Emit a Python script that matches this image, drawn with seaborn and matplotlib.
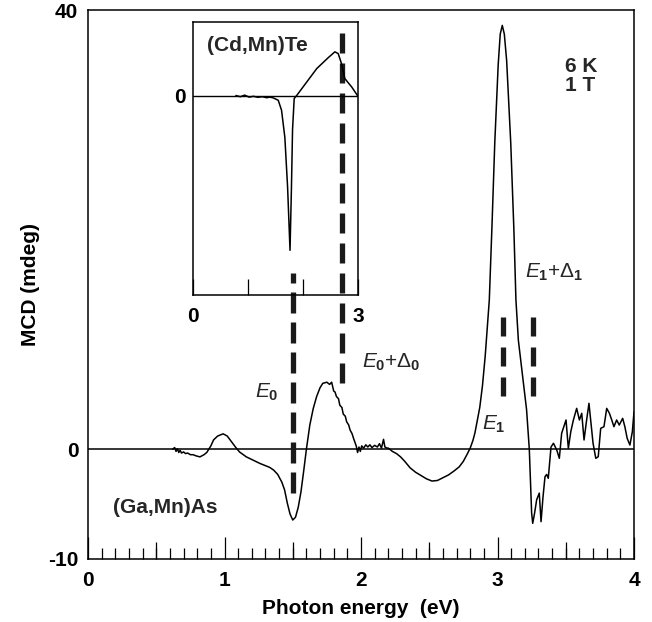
import matplotlib
matplotlib.use("Agg")
import matplotlib.pyplot as plt
from matplotlib.ticker import MultipleLocator
import pandas as pd
import seaborn as sns

# (Ga,Mn)As magnetic circular dichroism, 6 K, 1 T
gamnas_energy = [
    0.62, 0.635, 0.645, 0.655, 0.665, 0.675, 0.685, 0.70, 0.715, 0.73, 0.75, 0.77, 0.79, 0.82,
    0.85, 0.87, 0.90, 0.92, 0.95, 0.99, 1.02, 1.05, 1.08, 1.11, 1.16, 1.21, 1.26, 1.30, 1.33,
    1.36, 1.39, 1.42, 1.44, 1.46, 1.48, 1.50, 1.52, 1.54, 1.56, 1.58, 1.60, 1.625, 1.65, 1.675,
    1.70, 1.72, 1.735, 1.75, 1.77, 1.785, 1.80, 1.81, 1.82, 1.835, 1.845, 1.86, 1.87, 1.885,
    1.895, 1.91, 1.92, 1.935, 1.945, 1.965, 1.975, 1.985, 1.995, 2.005, 2.02, 2.035, 2.05,
    2.065, 2.08, 2.10, 2.12, 2.135, 2.15, 2.165, 2.175, 2.19, 2.20, 2.23, 2.26, 2.29, 2.32,
    2.36, 2.40, 2.44, 2.48, 2.52, 2.56, 2.60, 2.64, 2.68, 2.72, 2.75, 2.78, 2.80, 2.82, 2.835,
    2.85, 2.87, 2.89, 2.91, 2.94, 2.96, 2.98, 3.005, 3.02, 3.035, 3.05, 3.067, 3.097, 3.12,
    3.135, 3.153, 3.19, 3.213, 3.233, 3.25, 3.258, 3.272, 3.287, 3.306, 3.319, 3.333, 3.348,
    3.36, 3.372, 3.392, 3.41, 3.434, 3.453, 3.47, 3.502, 3.519, 3.537, 3.556, 3.58, 3.60,
    3.617, 3.634, 3.653, 3.67, 3.685, 3.70, 3.72, 3.738, 3.756, 3.78, 3.80, 3.82, 3.837,
    3.853, 3.873, 3.892, 3.917, 3.933, 3.95, 3.97, 3.988, 4.0,
]
gamnas_mcd = [
    0.0, 0.15, -0.2, 0.05, -0.3, -0.1, -0.35, -0.25, -0.4, -0.35, -0.5, -0.5, -0.6, -0.7,
    -0.5, -0.3, 0.3, 0.85, 1.2, 1.4, 1.2, 0.7, 0.2, -0.25, -0.7, -1.0, -1.3, -1.5, -1.65,
    -1.9, -2.3, -3.0, -3.7, -4.9, -5.9, -6.45, -6.2, -5.3, -3.9, -2.0, 0.0, 2.2, 3.7, 4.8,
    5.6, 6.0, 6.05, 6.1, 5.9, 6.1, 5.3, 5.2, 4.8, 4.6, 4.0, 3.8, 3.2, 3.0, 2.5, 2.2, 1.75,
    1.4, 1.0, 0.3, -0.3, 0.2, -0.2, 0.3, 0.1, 0.4, 0.2, 0.4, 0.15, 0.35, 0.2, 0.5, 0.1, 0.9,
    0.2, 0.1, 0.1, -0.2, -0.4, -0.7, -1.1, -1.7, -2.1, -2.4, -2.7, -2.9, -2.85, -2.6, -2.35,
    -2.0, -1.6, -1.1, -0.4, 0.1, 0.8, 1.5, 2.5, 3.8, 5.8, 8.5, 13.6, 20.5, 27.9, 35.0, 37.8,
    38.6, 37.8, 35.4, 27.9, 20.0, 13.6, 9.9, 6.0, 3.6, 0.0, -5.8, -6.75, -5.8, -4.6, -4.0,
    -6.6, -4.4, -2.5, -2.3, -2.65, 0.2, 0.54, -0.07, -0.83, 1.45, 2.66, 0.08, 1.6, 2.66,
    3.72, 2.66, 3.27, 0.84, 2.66, 4.18, 2.36, 0.54, -0.83, -0.68, 1.9, 2.05, 3.72, 3.27,
    2.66, 2.05, 2.66, 2.2, 2.81, 2.05, 0.99, 0.38, 1.6, 3.4,
]

# (Cd,Mn)Te spectrum for comparison (arbitrary units)
cdmnte_energy = [
    0.78, 0.86, 0.94, 1.02, 1.10, 1.18, 1.26, 1.34, 1.40, 1.46, 1.55, 1.61, 1.67, 1.72,
    1.764, 1.79, 1.81, 1.84, 1.885, 2.25, 2.46, 2.58, 2.64, 2.70, 2.76, 2.885, 2.99,
]
cdmnte_mcd = [
    0.0, -0.006, 0.002, -0.008, -0.004, -0.009, -0.006, -0.011, -0.008, -0.012, -0.024,
    -0.074, -0.21, -0.46, -0.776, -0.46, -0.17, -0.015, 0.0, 0.135, 0.19, 0.219, 0.21,
    0.16, 0.085, 0.043, 0.0,
]

# Critical-point transitions marked by dashed bars (eV, mdeg)
transition_names = ["E0", "E0+D0", "E1", "E1+D1"]
transition_energy = [1.50, 1.858, 3.04, 3.26]
transition_low = [-4.0, 6.0, 4.85, 4.85]
transition_high = [16.05, 38.0, 12.1, 12.1]

sns.set_theme(style="ticks")
plt.rcParams["font.family"] = ["Liberation Sans", "DejaVu Sans"]
plt.rcParams["mathtext.fontset"] = "custom"
plt.rcParams["mathtext.rm"] = "Liberation Sans"
plt.rcParams["mathtext.it"] = "Liberation Sans:italic"
plt.rcParams["mathtext.bf"] = "Liberation Sans:bold"
plt.rcParams["lines.scale_dashes"] = False
plt.rcParams["axes.unicode_minus"] = False

FS = 15
fig = plt.figure(figsize=(6.52, 6.22), dpi=100)
ax = fig.add_axes([88 / 652, 1 - 559 / 622, 546 / 652, 549 / 622])

main_df = pd.DataFrame({"energy": gamnas_energy, "mcd": gamnas_mcd})
sns.lineplot(data=main_df, x="energy", y="mcd", ax=ax, color="black", lw=1.1,
             sort=False, estimator=None)
ax.axhline(0, color="black", lw=1.1, zorder=1)

ax.set_xlim(0, 4)
ax.set_ylim(-10, 40)
ax.set_xticks([0, 1, 2, 3, 4])
ax.xaxis.set_minor_locator(MultipleLocator(0.1))
ax.set_yticks([-10, 0, 40])
ax.tick_params(axis="x", which="major", direction="in", length=15.8, width=0.9,
               pad=9, labelsize=FS, color="black", labelcolor="black")
ax.tick_params(axis="x", which="minor", direction="in", length=7.9, width=0.9,
               color="black")
ax.tick_params(axis="y", which="both", length=0, pad=7, labelsize=FS, labelcolor="black")
for lab in ax.get_xticklabels() + ax.get_yticklabels():
    lab.set_fontweight("bold")

# half-unit ticks on the energy axis
sec = ax.secondary_xaxis("bottom")
sec.set_xticks([0.5, 1.5, 2.5, 3.5])
sec.tick_params(direction="in", length=12.2, width=0.9, labelbottom=False, color="black")
sec.spines["bottom"].set_visible(False)

for side in ["left", "right", "top", "bottom"]:
    ax.spines[side].set_visible(True)
    ax.spines[side].set_color("black")
    ax.spines[side].set_linewidth(1.1)

ax.set_xlabel("Photon energy  (eV)", fontsize=FS, fontweight="bold", labelpad=6, color="black")
ax.set_ylabel("MCD (mdeg)", fontsize=FS, fontweight="bold", labelpad=6, color="black")

# dashed markers for the optical transitions
dash_styles = [(0, (21 * 0.72, 9 * 0.72)), (0, (20 * 0.72, 10 * 0.72)),
               (0, (19 * 0.72, 11 * 0.72)), (0, (19 * 0.72, 11 * 0.72))]
for en, lo, hi, ls in zip(transition_energy, transition_low, transition_high, dash_styles):
    seg = pd.DataFrame({"energy": [en, en], "mcd": [lo, hi]})
    ax.plot(seg["energy"], seg["mcd"], color="#1a1a1a", lw=3.8, linestyle=ls,
            solid_capstyle="butt", dash_capstyle="butt", zorder=5)

ax.text(0.183, -5.33, "(Ga,Mn)As", fontsize=FS, fontweight="bold", ha="left", va="center")
ax.text(3.495, 34.0, "6 K\n1 T", fontsize=FS, fontweight="bold", ha="left", va="center",
        linespacing=0.95)
ax.text(1.223, 4.66, r"$\mathit{E}_\mathbf{0}$", fontsize=FS, fontweight="normal",
        ha="left", va="baseline")
ax.text(2.007, 7.4, r"$\mathit{E}_\mathbf{0}$+$\Delta_\mathbf{0}$", fontsize=FS,
        fontweight="normal", ha="left", va="baseline")
ax.text(2.886, 1.75, r"$\mathit{E}_\mathbf{1}$", fontsize=FS, fontweight="normal",
        ha="left", va="baseline")
ax.text(3.20, 15.6, r"$\mathit{E}_\mathbf{1}$+$\Delta_\mathbf{1}$", fontsize=FS,
        fontweight="normal", ha="left", va="baseline")

# inset: (Cd,Mn)Te
ins = fig.add_axes([193 / 652, 1 - 295 / 622, 165 / 652, 273.3 / 622])
ins.patch.set_alpha(0)
ins_df = pd.DataFrame({"energy": cdmnte_energy, "mcd": cdmnte_mcd})
sns.lineplot(data=ins_df, x="energy", y="mcd", ax=ins, color="black", lw=1.1,
             sort=False, estimator=None)
ins.axhline(0, color="black", lw=1.0, zorder=1)
ins.set_xlim(0, 3)
ins.set_ylim(-1.0, 0.37)
ins.set_xticks([0, 1, 2, 3])
ins.set_xticklabels(["0", "", "", "3"])
ins.set_yticks([0])
ins.tick_params(axis="x", direction="in", length=11.5, width=0.9, pad=9, labelsize=FS,
                color="black", labelcolor="black")
ins.tick_params(axis="y", length=0, pad=5, labelsize=FS, labelcolor="black")
for lab in ins.get_xticklabels() + ins.get_yticklabels():
    lab.set_fontweight("bold")
for side in ["left", "right", "top", "bottom"]:
    ins.spines[side].set_visible(True)
    ins.spines[side].set_color("black")
    ins.spines[side].set_linewidth(1.1)
ins.set_xlabel("")
ins.set_ylabel("")
ins.text(0.255, 0.252, "(Cd,Mn)Te", fontsize=FS, fontweight="bold", ha="left", va="center")

fig.savefig("out.png", dpi=100, facecolor="white")
